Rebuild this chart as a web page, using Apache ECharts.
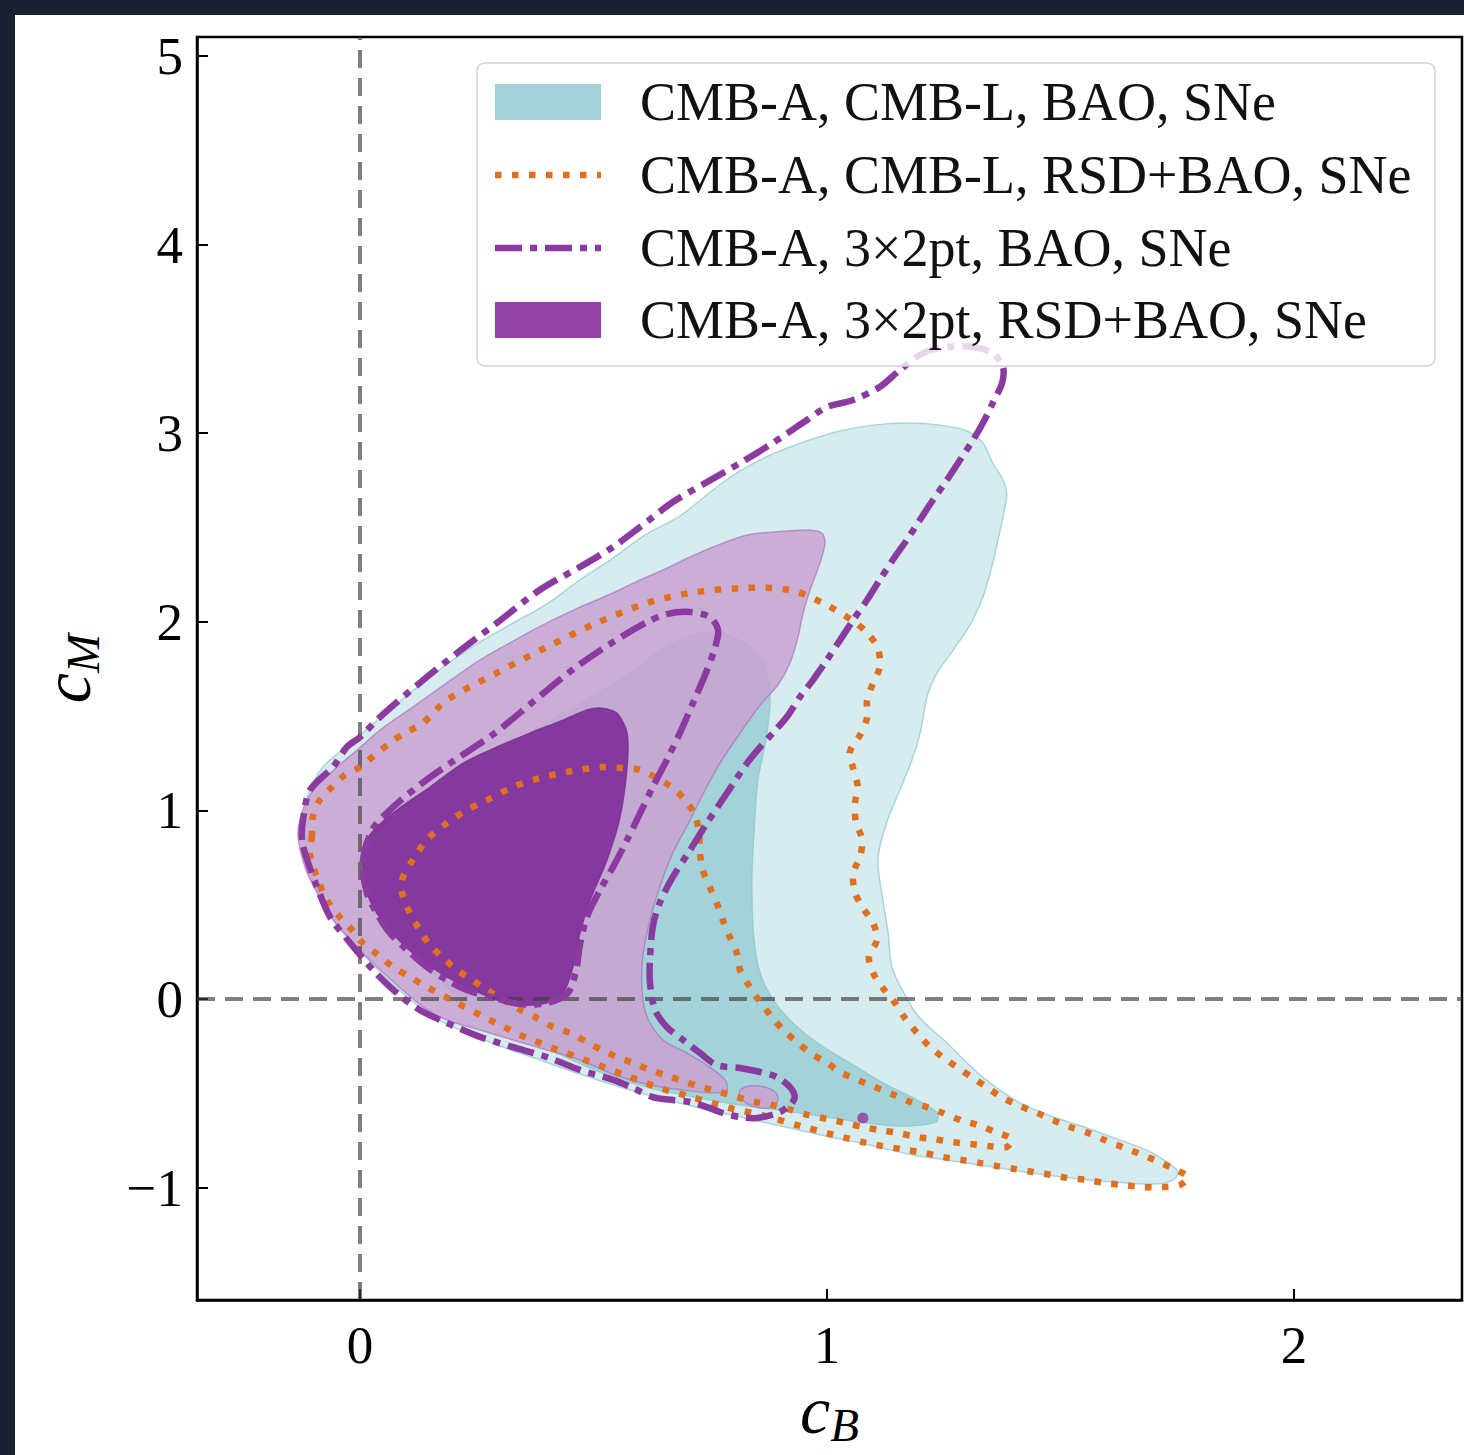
<!DOCTYPE html>
<html>
<head>
<meta charset="utf-8">
<script src="https://cdn.jsdelivr.net/npm/echarts@6/dist/echarts.min.js"></script>
<style>
html,body{margin:0;padding:0;background:#1b2031;width:1464px;height:1455px;overflow:hidden}
#c{position:absolute;left:15px;top:15px;width:1449px;height:1440px;background:#fff}
</style>
</head>
<body>
<div id="c"></div>
<script>
// ---------- axis ticks ----------
const cBTicks = [0, 1, 2];
const cMTicks = [-1, 0, 1, 2, 3, 4, 5];

// ---------- legend labels ----------
const legendLabels = [
  'CMB-A, CMB-L, BAO, SNe',
  'CMB-A, CMB-L, RSD+BAO, SNe',
  'CMB-A, 3\u00d72pt, BAO, SNe',
  'CMB-A, 3\u00d72pt, RSD+BAO, SNe'
];

// ---------- contours [cB, cM] ----------
// CMB-A, CMB-L, BAO, SNe (filled teal)
const teal2s = [[-0.122,0.896],[-0.111,1.082],[-0.081,1.225],[-0.043,1.310],[0,1.400],[0.064,1.532],[0.128,1.665],[0.193,1.787],[0.257,1.893],[0.332,1.999],[0.400,2.094],[0.471,2.222],[0.542,2.338],[0.610,2.460],[0.685,2.561],[0.756,2.699],[0.814,2.800],[0.884,2.890],[0.957,2.959],[1.028,3.012],[1.099,3.043],[1.171,3.054],[1.242,3.043],[1.300,3.012],[1.334,2.948],[1.355,2.842],[1.377,2.752],[1.385,2.678],[1.379,2.582],[1.370,2.476],[1.355,2.312],[1.334,2.131],[1.306,1.983],[1.270,1.850],[1.236,1.729],[1.214,1.601],[1.201,1.426],[1.182,1.267],[1.156,1.108],[1.126,0.923],[1.109,0.737],[1.118,0.551],[1.131,0.350],[1.139,0.170],[1.167,0.021],[1.199,-0.101],[1.257,-0.233],[1.300,-0.339],[1.349,-0.445],[1.413,-0.551],[1.484,-0.626],[1.557,-0.684],[1.627,-0.748],[1.685,-0.801],[1.728,-0.864],[1.752,-0.917],[1.741,-0.960],[1.698,-0.981],[1.612,-0.970],[1.542,-0.954],[1.471,-0.933],[1.398,-0.907],[1.328,-0.880],[1.257,-0.854],[1.184,-0.827],[1.092,-0.774],[1.006,-0.732],[0.921,-0.684],[0.824,-0.631],[0.728,-0.578],[0.642,-0.525],[0.557,-0.467],[0.471,-0.398],[0.385,-0.323],[0.300,-0.249],[0.214,-0.164],[0.150,-0.085],[0.096,0.021],[0.043,0.143],[-0.011,0.286],[-0.060,0.445],[-0.096,0.604],[-0.118,0.753]];
const teal1s = [[0.086,0.472],[0.086,0.631],[0.107,0.896],[0.171,1.108],[0.300,1.320],[0.428,1.506],[0.557,1.691],[0.664,1.877],[0.749,1.946],[0.824,1.888],[0.867,1.771],[0.878,1.585],[0.869,1.373],[0.852,1.161],[0.844,0.896],[0.839,0.631],[0.842,0.366],[0.852,0.180],[0.872,0.048],[0.914,-0.095],[0.979,-0.233],[1.049,-0.339],[1.120,-0.445],[1.193,-0.536],[1.236,-0.604],[1.233,-0.652],[1.156,-0.673],[1.071,-0.652],[0.985,-0.620],[0.899,-0.589],[0.814,-0.562],[0.728,-0.525],[0.621,-0.472],[0.514,-0.387],[0.407,-0.270],[0.300,-0.138],[0.193,0.048],[0.118,0.260]];

// CMB-A, 3x2pt, RSD+BAO, SNe (filled purple)
const purple2s = [[-0.133,0.870],[-0.126,0.976],[-0.111,1.066],[-0.086,1.145],[-0.049,1.230],[-0.006,1.320],[0.043,1.426],[0.113,1.548],[0.186,1.676],[0.257,1.798],[0.328,1.898],[0.400,1.994],[0.471,2.078],[0.542,2.153],[0.600,2.222],[0.649,2.275],[0.707,2.344],[0.756,2.397],[0.829,2.460],[0.884,2.476],[0.957,2.487],[0.989,2.471],[0.996,2.418],[0.985,2.312],[0.964,2.169],[0.949,2.047],[0.938,1.919],[0.921,1.782],[0.895,1.665],[0.857,1.559],[0.814,1.410],[0.775,1.267],[0.739,1.108],[0.707,0.949],[0.670,0.774],[0.642,0.594],[0.621,0.419],[0.606,0.233],[0.604,0.048],[0.615,-0.095],[0.649,-0.217],[0.700,-0.286],[0.749,-0.361],[0.782,-0.429],[0.786,-0.483],[0.760,-0.498],[0.692,-0.483],[0.621,-0.456],[0.546,-0.403],[0.471,-0.323],[0.400,-0.270],[0.328,-0.217],[0.257,-0.164],[0.186,-0.111],[0.135,-0.042],[0.079,0.074],[0.028,0.191],[-0.015,0.297],[-0.058,0.419],[-0.092,0.562],[-0.118,0.700]];
const purple2sIsland = [[0.814,-0.483],[0.835,-0.461],[0.867,-0.467],[0.891,-0.498],[0.895,-0.536],[0.882,-0.573],[0.857,-0.578],[0.831,-0.557],[0.814,-0.520]];
const purple1s = [[0.514,1.543],[0.550,1.516],[0.572,1.410],[0.572,1.230],[0.557,0.965],[0.529,0.737],[0.493,0.525],[0.471,0.350],[0.456,0.170],[0.435,0.032],[0.400,-0.021],[0.328,-0.032],[0.293,-0.005],[0.257,0.032],[0.186,0.117],[0.113,0.244],[0.058,0.382],[0.021,0.525],[0.006,0.700],[0.015,0.843],[0.036,0.912],[0.079,1.002],[0.150,1.124],[0.221,1.251],[0.293,1.336],[0.364,1.410],[0.435,1.479],[0.486,1.532]];
const purple1sDot = [[1.077,-0.631]];

// CMB-A, CMB-L, RSD+BAO, SNe (orange dotted)
const orange2s = [[-0.103,0.859],[-0.101,0.965],[-0.086,1.055],[-0.060,1.124],[-0.032,1.188],[0,1.230],[0.032,1.294],[0.064,1.357],[0.096,1.410],[0.135,1.463],[0.186,1.585],[0.293,1.729],[0.400,1.866],[0.507,1.994],[0.615,2.100],[0.707,2.153],[0.814,2.179],[0.921,2.169],[0.991,2.100],[1.056,2.004],[1.086,1.941],[1.109,1.861],[1.113,1.760],[1.099,1.676],[1.086,1.585],[1.086,1.490],[1.071,1.400],[1.049,1.310],[1.056,1.225],[1.066,1.124],[1.060,1.039],[1.062,0.938],[1.075,0.848],[1.071,0.753],[1.056,0.668],[1.060,0.567],[1.077,0.483],[1.099,0.403],[1.107,0.313],[1.090,0.223],[1.099,0.138],[1.120,0.058],[1.146,-0.021],[1.167,-0.101],[1.193,-0.180],[1.221,-0.255],[1.248,-0.308],[1.281,-0.366],[1.313,-0.419],[1.345,-0.472],[1.377,-0.525],[1.413,-0.567],[1.450,-0.604],[1.484,-0.642],[1.520,-0.679],[1.559,-0.710],[1.595,-0.748],[1.632,-0.785],[1.666,-0.817],[1.702,-0.854],[1.739,-0.896],[1.773,-0.944],[1.756,-0.986],[1.717,-0.997],[1.675,-0.997],[1.634,-0.986],[1.595,-0.976],[1.557,-0.960],[1.516,-0.949],[1.482,-0.933],[1.441,-0.917],[1.403,-0.901],[1.364,-0.886],[1.328,-0.870],[1.289,-0.854],[1.248,-0.838],[1.210,-0.817],[1.171,-0.801],[1.086,-0.764],[0.942,-0.673],[0.867,-0.620],[0.792,-0.578],[0.717,-0.525],[0.642,-0.472],[0.567,-0.403],[0.493,-0.334],[0.424,-0.270],[0.353,-0.201],[0.278,-0.111],[0.208,-0.021],[0.143,0.064],[0.107,0.117],[0.071,0.170],[0.039,0.233],[0.006,0.297],[-0.017,0.366],[-0.043,0.435],[-0.071,0.525],[-0.092,0.647],[-0.107,0.764]];
const orange1s = [[0.090,0.631],[0.113,0.737],[0.143,0.843],[0.186,0.933],[0.229,1.002],[0.272,1.055],[0.328,1.124],[0.370,1.161],[0.443,1.204],[0.520,1.230],[0.563,1.225],[0.600,1.214],[0.636,1.172],[0.670,1.119],[0.696,1.055],[0.717,0.976],[0.726,0.880],[0.728,0.774],[0.734,0.684],[0.749,0.594],[0.764,0.509],[0.777,0.419],[0.792,0.329],[0.807,0.244],[0.814,0.154],[0.835,0.064],[0.857,-0.016],[0.882,-0.095],[0.906,-0.164],[0.936,-0.228],[0.964,-0.286],[1.000,-0.339],[1.032,-0.392],[1.066,-0.429],[1.103,-0.467],[1.139,-0.504],[1.173,-0.541],[1.214,-0.573],[1.248,-0.604],[1.285,-0.642],[1.323,-0.668],[1.360,-0.705],[1.396,-0.742],[1.385,-0.785],[1.345,-0.779],[1.306,-0.769],[1.268,-0.758],[1.227,-0.742],[1.193,-0.732],[1.152,-0.710],[1.113,-0.695],[1.077,-0.679],[1.039,-0.657],[1.000,-0.636],[0.959,-0.615],[0.925,-0.589],[0.884,-0.562],[0.846,-0.546],[0.807,-0.520],[0.771,-0.493],[0.732,-0.467],[0.696,-0.440],[0.660,-0.408],[0.621,-0.376],[0.585,-0.339],[0.550,-0.308],[0.518,-0.270],[0.486,-0.228],[0.450,-0.180],[0.413,-0.148],[0.379,-0.101],[0.343,-0.058],[0.272,0.048],[0.240,0.101],[0.208,0.154],[0.178,0.217],[0.150,0.286],[0.128,0.366],[0.107,0.456],[0.092,0.541]];

// CMB-A, 3x2pt, BAO, SNe (purple dash-dot)
const dashdot2s = [[-0.124,0.843],[-0.122,0.949],[-0.107,1.108],[-0.058,1.230],[-0.028,1.336],[0,1.389],[0.043,1.495],[0.128,1.676],[0.208,1.835],[0.293,1.994],[0.385,2.169],[0.471,2.291],[0.542,2.397],[0.600,2.503],[0.670,2.635],[0.743,2.741],[0.814,2.842],[0.884,2.948],[0.957,3.070],[1.000,3.139],[1.056,3.176],[1.113,3.245],[1.156,3.335],[1.206,3.425],[1.257,3.457],[1.313,3.457],[1.355,3.425],[1.377,3.351],[1.375,3.266],[1.355,3.160],[1.334,3.054],[1.313,2.964],[1.285,2.858],[1.257,2.752],[1.227,2.646],[1.199,2.540],[1.171,2.434],[1.141,2.328],[1.113,2.222],[1.086,2.116],[1.056,2.009],[1.028,1.903],[1.000,1.798],[0.970,1.691],[0.942,1.601],[0.914,1.495],[0.884,1.410],[0.857,1.336],[0.829,1.251],[0.786,1.092],[0.743,0.933],[0.707,0.790],[0.670,0.647],[0.642,0.509],[0.627,0.382],[0.621,0.207],[0.621,0.085],[0.632,-0.058],[0.657,-0.148],[0.692,-0.217],[0.728,-0.286],[0.764,-0.350],[0.814,-0.366],[0.857,-0.387],[0.893,-0.414],[0.921,-0.467],[0.931,-0.520],[0.921,-0.562],[0.895,-0.604],[0.850,-0.631],[0.814,-0.626],[0.777,-0.604],[0.743,-0.573],[0.707,-0.546],[0.670,-0.536],[0.627,-0.520],[0.585,-0.472],[0.542,-0.429],[0.471,-0.376],[0.400,-0.308],[0.328,-0.255],[0.257,-0.201],[0.186,-0.127],[0.128,-0.058],[0.079,0.032],[0.028,0.154],[-0.021,0.297],[-0.064,0.435],[-0.092,0.594],[-0.113,0.737]];
const dashdot1s = [[0.006,0.726],[0.026,0.896],[0.064,1.002],[0.128,1.135],[0.203,1.267],[0.289,1.410],[0.375,1.585],[0.460,1.755],[0.542,1.893],[0.615,1.999],[0.657,2.041],[0.707,2.052],[0.749,2.025],[0.767,1.957],[0.760,1.861],[0.739,1.718],[0.713,1.569],[0.685,1.410],[0.657,1.267],[0.627,1.124],[0.600,0.986],[0.572,0.843],[0.542,0.700],[0.514,0.578],[0.486,0.435],[0.471,0.286],[0.463,0.154],[0.445,0.032],[0.400,-0.021],[0.343,-0.027],[0.289,0.005],[0.229,0.048],[0.186,0.101],[0.143,0.170],[0.101,0.260],[0.064,0.350],[0.036,0.456],[0.015,0.562]];

// ---------- styles ----------
const FONT = 'Liberation Serif';
const ORANGE = '#e0701f';
const PURPLE = '#8b3aa0';
const DOT_DASH = [6.5, 10.5];
const DASHDOT_DASH = [27, 8, 7, 8];

function fillSeries(pts, fill, stroke, z) {
  return {
    type: 'custom', coordinateSystem: 'cartesian2d', z: z, silent: true, animation: false, clip: true,
    data: pts,
    renderItem: function (params, api) {
      if (params.dataIndex !== 0) return null;
      const points = pts.map(p => api.coord(p));
      return { type: 'polygon', shape: { points: points, smooth: 0.3 },
               style: { fill: fill, stroke: stroke, lineWidth: 1.5 } };
    }
  };
}
function lineSeries(pts, color, width, dash, z) {
  return {
    type: 'custom', coordinateSystem: 'cartesian2d', z: z, silent: true, animation: false, clip: true,
    data: pts,
    renderItem: function (params, api) {
      if (params.dataIndex !== 0) return null;
      const points = pts.map(p => api.coord(p));
      return { type: 'polygon', shape: { points: points, smooth: 0.3 },
               style: { fill: 'none', stroke: color, lineWidth: width, lineDash: dash, lineCap: 'butt', lineJoin: 'round' } };
    }
  };
}

const nameRich = {
  c: { fontFamily: FONT, fontStyle: 'italic', fontSize: 68, lineHeight: 68, verticalAlign: 'top', color: '#000' },
  s: { fontFamily: FONT, fontStyle: 'italic', fontSize: 47, lineHeight: 47, verticalAlign: 'top', padding: [26, 0, 0, 0], color: '#000' }
};
const fmt = v => String(v).replace('-', '\u2212');

// legend (graphic), positions relative to chart div
const LX = 462, LY = 48;
const rowY = [87, 160, 233, 305];
const legendGraphic = [
  { type: 'rect', z: 100, shape: { x: LX, y: LY, width: 958, height: 303, r: 8 },
    style: { fill: 'rgba(255,255,255,0.8)', stroke: '#d4d4d4', lineWidth: 1.5 } },
  { type: 'rect', z: 101, shape: { x: 480, y: rowY[0] - 18, width: 106, height: 36 },
    style: { fill: '#a3d3d9' } },
  { type: 'line', z: 101, shape: { x1: 480, y1: rowY[1], x2: 586, y2: rowY[1] },
    style: { stroke: ORANGE, lineWidth: 6.5, lineDash: DOT_DASH, lineCap: 'butt' } },
  { type: 'line', z: 101, shape: { x1: 480, y1: rowY[2], x2: 586, y2: rowY[2] },
    style: { stroke: PURPLE, lineWidth: 6.5, lineDash: DASHDOT_DASH, lineCap: 'butt' } },
  { type: 'rect', z: 101, shape: { x: 480, y: rowY[3] - 18, width: 106, height: 36 },
    style: { fill: '#9245a6' } }
].concat(legendLabels.map((t, i) => ({
  type: 'text', z: 101, x: 625, y: rowY[i],
  style: { text: t, fill: '#111', fontFamily: FONT, fontSize: 54, verticalAlign: 'middle', align: 'left' }
})));

const chart = echarts.init(document.getElementById('c'), null, { renderer: 'svg' });
chart.setOption({
  animation: false,
  backgroundColor: '#fff',
  grid: { left: 182, right: 2, top: 22, bottom: 155, show: true, borderColor: '#000', borderWidth: 2.5, backgroundColor: 'transparent' },
  xAxis: {
    type: 'value', min: -0.349, max: 2.360,
    name: '{c|c}{s|B}', nameLocation: 'middle', nameGap: 72, nameTextStyle: { rich: nameRich },
    axisLine: { show: true, onZero: false, lineStyle: { color: '#000', width: 2.5 } },
    axisTick: { show: true, inside: true, length: 11, lineStyle: { color: '#000', width: 2 }, customValues: cBTicks },
    axisLabel: { show: true, customValues: cBTicks, formatter: fmt, fontFamily: FONT, fontSize: 53, color: '#000', margin: 18 },
    splitLine: { show: false }
  },
  yAxis: {
    type: 'value', min: -1.596, max: 5.101,
    name: '{c|c}{s|M}', nameLocation: 'middle', nameGap: 96, nameRotate: 90, nameTextStyle: { rich: nameRich },
    axisLine: { show: true, onZero: false, lineStyle: { color: '#000', width: 2.5 } },
    axisTick: { show: true, inside: true, length: 11, lineStyle: { color: '#000', width: 2 }, customValues: cMTicks },
    axisLabel: { show: true, customValues: cMTicks, formatter: fmt, fontFamily: FONT, fontSize: 53, color: '#000', margin: 14 },
    splitLine: { show: false }
  },
  graphic: legendGraphic,
  series: [
    fillSeries(teal2s, '#d6ecee', '#a9d5da', 1),
    fillSeries(teal1s, '#a3d2d8', '#98cbd2', 2),
    fillSeries(purple2s, 'rgba(201,163,210,0.86)', 'rgba(165,105,185,0.6)', 3),
    fillSeries(purple2sIsland, 'rgba(201,163,210,0.86)', 'rgba(165,105,185,0.6)', 3),
    fillSeries(purple1s, 'rgba(127,47,152,0.92)', 'rgba(120,45,145,0.8)', 4),
    { type: 'scatter', data: purple1sDot, symbolSize: 11, z: 4, silent: true, itemStyle: { color: '#8a3aa0' } },
    lineSeries(orange2s, ORANGE, 6.5, DOT_DASH, 5),
    lineSeries(orange1s, ORANGE, 6.5, DOT_DASH, 5),
    lineSeries(dashdot2s, PURPLE, 6.5, DASHDOT_DASH, 6),
    lineSeries(dashdot1s, PURPLE, 6.5, DASHDOT_DASH, 6),
    { type: 'line', data: [], z: 8, silent: true,
      markLine: { symbol: ['none', 'none'], silent: true, animation: false, label: { show: false },
        lineStyle: { color: 'rgba(60,60,60,0.65)', width: 4, type: [18, 10] },
        emphasis: { disabled: true },
        data: [{ xAxis: 0 }, { yAxis: 0 }] } }
  ]
});
</script>
</body>
</html>
